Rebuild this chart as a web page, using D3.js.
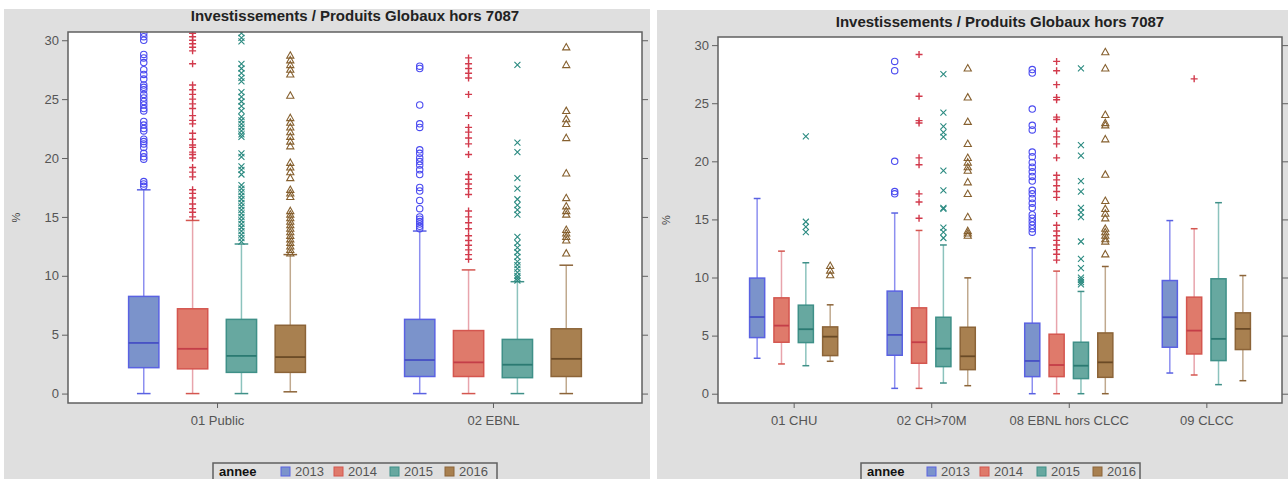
<!DOCTYPE html>
<html><head><meta charset="utf-8">
<script src="https://cdn.jsdelivr.net/npm/d3@7"></script>
<style>
body{margin:0;background:#fff;}
text{font-family:"Liberation Sans",Arial,sans-serif;}
</style>
</head><body>
<svg id="chart" width="1288" height="479"></svg>
<script>
// ---------- DATA ----------
const years = ["2013","2014","2015","2016"];
const yTicks = [0,5,10,15,20,25,30];
const titleText = "Investissements / Produits Globaux hors 7087";
const yLabel = "%";
const legendTitle = "annee";

// Left panel
const leftCategories = ["01 Public","02 EBNL"];
// [min, q1, median, q3, max] per category
const left2013 = [[0,2.2,4.3,8.25,17.3],[0,1.45,2.85,6.3,13.8]];
const left2014 = [[0,2.1,3.8,7.2,14.7],[0,1.45,2.65,5.35,10.5]];
const left2015 = [[0,1.8,3.2,6.3,12.7],[0,1.35,2.45,4.6,9.5]];
const left2016 = [[0.15,1.8,3.1,5.8,11.8],[0,1.45,2.95,5.5,10.9]];
const leftOut2013 = [
  [30.6,30.3,30.0,28.8,28.5,28.1,27.5,27.1,26.7,26.2,26.0,25.8,25.4,25.1,24.8,24.5,24.2,24.0,23.1,22.8,22.5,22.3,21.6,21.4,21.2,20.9,20.4,20.1,19.9,18.0,17.8,17.6],
  [27.8,27.6,24.5,22.9,22.6,20.7,20.4,20.0,19.7,19.4,19.0,18.6,17.5,17.2,16.4,15.7,15.0,14.8,14.6,14.4,14.2,14.0]
];
const leftOut2014 = [
  [30.6,30.3,30.0,29.7,29.4,29.1,28.0,26.2,25.8,25.4,25.0,24.6,24.2,23.6,23.2,22.9,22.1,21.6,21.1,20.9,20.5,20.3,20.0,19.2,18.8,18.4,17.3,17.0,16.6,16.1,15.7,15.4,15.0],
  [28.5,28.0,27.6,27.2,26.8,25.4,23.6,22.6,22.2,21.7,21.2,20.3,18.6,18.2,17.8,17.4,16.9,15.5,15.0,14.5,14.0,13.4,13.0,12.6,12.2,11.8,11.4]
];
const leftOut2015 = [
  [30.6,30.2,29.9,28.0,27.6,27.2,26.8,26.5,25.6,25.2,24.8,24.4,24.0,23.5,23.2,22.9,22.6,22.3,22.0,21.8,20.4,20.1,19.3,19.0,18.6,17.7,17.4,17.1,16.8,16.5,16.2,15.9,15.6,15.3,15.0,14.7,14.4,14.1,13.8,13.5,13.2,12.9],
  [27.9,21.3,20.5,18.3,17.4,16.5,16.0,15.6,15.2,13.3,12.8,12.4,12.0,11.6,11.2,10.9,10.6,10.3,10.0,9.8,9.6]
];
const leftOut2016 = [
  [28.7,28.3,27.9,27.5,27.1,25.3,23.4,23.0,22.6,22.2,21.8,21.4,21.0,19.6,19.2,18.8,18.3,17.3,17.0,16.7,15.5,15.2,14.9,14.6,14.3,14.0,13.7,13.4,13.1,12.8,12.5,12.2,11.9],
  [29.4,27.9,24.0,23.3,22.9,21.7,18.7,16.6,15.9,15.5,15.2,13.9,13.6,13.3,13.0,11.9]
];

// Right panel
const rightCategories = ["01 CHU","02 CH>70M","08 EBNL hors CLCC","09 CLCC"];
const right2013 = [[3.05,4.83,6.6,9.95,16.8],[0.46,3.31,5.06,8.83,15.55],[0,1.47,2.82,6.07,12.56],[1.78,4.0,6.58,9.74,14.9]];
const right2014 = [[2.56,4.43,5.86,8.25,12.27],[0.46,2.62,4.43,7.39,14.05],[0,1.47,2.47,5.12,10.55],[1.61,3.42,5.43,8.31,14.2]];
const right2015 = [[2.41,4.4,5.55,7.62,11.27],[0.92,2.33,3.88,6.58,12.8],[0,1.3,2.41,4.43,8.8],[0.78,2.85,4.72,9.89,16.44]];
const right2016 = [[2.79,3.28,4.91,5.75,7.65],[0.69,2.07,3.22,5.72,9.97],[0,1.41,2.7,5.23,10.95],[1.12,3.8,5.58,6.96,10.17]];
const rightOut2013 = [
  [],
  [28.6,27.8,20.0,17.4,17.2],
  [27.9,27.6,24.5,23.1,22.7,20.8,20.4,19.9,19.5,19.1,18.7,18.3,17.5,17.2,16.8,16.4,16.0,15.4,15.1,14.8,14.5,14.2,13.9],
  []
];
const rightOut2014 = [
  [],
  [29.2,25.6,23.5,23.3,20.3,19.7,17.2,16.5,15.1],
  [28.6,27.8,26.6,25.5,25.3,23.8,23.6,22.6,22.1,21.5,20.3,18.8,18.4,17.9,17.4,16.9,15.5,14.5,14.0,13.6,13.2,12.8,12.4,12.0,11.5],
  [27.1]
];
const rightOut2015 = [
  [22.15,14.8,14.35,13.9],
  [27.5,24.2,23.0,22.5,22.1,19.2,17.5,16.0,15.9,14.3,13.9,13.4],
  [28.0,21.4,20.5,18.3,17.4,16.0,15.6,15.2,13.1,11.6,10.8,10.0,9.8,9.6,9.4],
  []
];
const rightOut2016 = [
  [11.0,10.6,10.2],
  [28.0,25.5,23.4,21.5,20.3,19.9,19.5,19.2,18.2,17.2,15.2,14.0,13.8,13.6],
  [29.4,28.0,24.0,23.3,23.1,21.9,18.85,16.6,15.9,15.5,15.1,14.2,13.9,13.6,13.3,13.1,12.0],
  []
];

// ---------- STYLE ----------
const fillColors   = ["#7b93cb","#df7a6b","#67a8a0","#a88050"];
const strokeColors = ["#5a62e2","#d4564f","#3f9088","#8c6438"];
const medianColors = ["#4650c4","#c43e48","#2b7a72","#6a4a26"];
const whiskerColors= ["#8d8ff0","#e8a4ac","#8cc3bd","#c0a98e"];
const markerColors = ["#4b4bf0","#d23a4c","#2a8a80","#86602f"];
const markerPaths = [
  null, // circle
  "M-3.5,0H3.5M0,-3.5V3.5",
  "M-3,-3L3,3M-3,3L3,-3",
  "M0,-3.8L3.6,2.6L-3.6,2.6Z"
];

const svg = d3.select("#chart");
const yDomain = [-0.8, 30.7];

function drawPanel(cfg, idx) {
  const g = svg.append("g");
  // background
  g.append("rect").attr("x", cfg.bg[0]).attr("y", cfg.bg[1])
    .attr("width", cfg.bg[2]-cfg.bg[0]).attr("height", cfg.bg[3]-cfg.bg[1])
    .attr("fill", "#dfdfdf");
  const [L,T,R,B] = cfg.plot;
  g.append("rect").attr("x", L).attr("y", T).attr("width", R-L).attr("height", B-T).attr("fill", "#fff");

  const y = d3.scaleLinear().domain(yDomain).range([B, T]);
  const x = d3.scalePoint().domain(cfg.categories).range([L, R]).padding(cfg.padding);
  const step = x.step();
  const xs = d3.scaleBand().domain(years).range([-0.354*step, 0.354*step]);
  const bw = xs.bandwidth() * 0.62;
  const cw = bw * 0.45;

  const clipId = "clip" + idx;
  svg.append("clipPath").attr("id", clipId).append("rect")
    .attr("x", L).attr("y", T).attr("width", R-L).attr("height", B-T);
  const plot = g.append("g").attr("clip-path", `url(#${clipId})`);

  years.forEach((yr, s) => {
    cfg.stats[s].forEach((st, c) => {
      const cx = x(cfg.categories[c]) + xs(yr) + xs.bandwidth()/2;
      const [mn, q1, md, q3, mx] = st;
      const bg = plot.append("g");
      // whiskers
      bg.append("line").attr("x1", cx).attr("x2", cx).attr("y1", y(q3)).attr("y2", y(mx))
        .attr("stroke", whiskerColors[s]).attr("stroke-width", 1.5);
      bg.append("line").attr("x1", cx).attr("x2", cx).attr("y1", y(q1)).attr("y2", y(mn))
        .attr("stroke", whiskerColors[s]).attr("stroke-width", 1.5);
      [mn, mx].forEach(v => bg.append("line").attr("x1", cx-cw/2).attr("x2", cx+cw/2)
        .attr("y1", y(v)).attr("y2", y(v)).attr("stroke", strokeColors[s]).attr("stroke-width", 1.5));
      // box
      bg.append("rect").attr("x", cx-bw/2).attr("y", y(q3)).attr("width", bw).attr("height", y(q1)-y(q3))
        .attr("fill", fillColors[s]).attr("stroke", strokeColors[s]).attr("stroke-width", 1.5);
      bg.append("line").attr("x1", cx-bw/2).attr("x2", cx+bw/2).attr("y1", y(md)).attr("y2", y(md))
        .attr("stroke", medianColors[s]).attr("stroke-width", 1.8);
      // outliers
      cfg.outliers[s][c].forEach(v => {
        if (s === 0) {
          bg.append("circle").attr("cx", cx).attr("cy", y(v)).attr("r", 3.2)
            .attr("fill", "none").attr("stroke", markerColors[s]).attr("stroke-width", 1.1);
        } else {
          bg.append("path").attr("d", markerPaths[s]).attr("transform", `translate(${cx},${y(v)})`)
            .attr("fill", "none").attr("stroke", markerColors[s]).attr("stroke-width", s===1?1.4:1.1);
        }
      });
    });
  });

  // frame
  g.append("rect").attr("x", L).attr("y", T).attr("width", R-L).attr("height", B-T)
    .attr("fill", "none").attr("stroke", "#606060").attr("stroke-width", 1.5);

  // left axis
  const ax = g.append("g").attr("transform", `translate(${L},0)`)
    .call(d3.axisLeft(y).tickValues(yTicks).tickSize(6).tickPadding(3));
  ax.select(".domain").remove();
  ax.selectAll(".tick line").attr("stroke", "#606060");
  ax.selectAll(".tick text").attr("fill", "#555").style("font-size", "13px").style("font-family", "Liberation Sans, Arial, sans-serif");
  // right mirrored ticks
  const axr = g.append("g").attr("transform", `translate(${R},0)`)
    .call(d3.axisRight(y).tickValues(yTicks).tickSize(6).tickFormat(""));
  axr.select(".domain").remove();
  axr.selectAll(".tick line").attr("stroke", "#606060");
  // bottom axis
  const bx = g.append("g").attr("transform", `translate(0,${B})`)
    .call(d3.axisBottom(x).tickSize(5).tickPadding(8));
  bx.select(".domain").remove();
  bx.selectAll(".tick line").attr("stroke", "#606060");
  bx.selectAll(".tick text").attr("fill", "#555").style("font-size", "13px").style("font-family", "Liberation Sans, Arial, sans-serif");

  // y label
  g.append("text").attr("transform", `translate(${cfg.yLabelX},${(T+B)/2}) rotate(-90)`)
    .attr("text-anchor", "middle").attr("fill", "#444").style("font-size", "11px").text(yLabel);
  // title
  g.append("text").attr("x", (L+R)/2).attr("y", cfg.titleY).attr("text-anchor", "middle")
    .attr("fill", "#222").style("font-size", "15px").style("font-weight", "bold").text(titleText);

  // legend
  const lg = g.append("g");
  lg.append("rect").attr("x", cfg.legend.x0).attr("y", cfg.legend.y).attr("width", cfg.legend.x1-cfg.legend.x0)
    .attr("height", 30).attr("fill", "none").attr("stroke", "#606060").attr("stroke-width", 1.5);
  lg.append("text").attr("x", cfg.legend.x0+6).attr("y", cfg.legend.y+13).attr("fill", "#111")
    .style("font-size", "13px").style("font-weight", "bold").text(legendTitle);
  years.forEach((yr, s) => {
    const sx = cfg.legend.items[s];
    lg.append("rect").attr("x", sx).attr("y", cfg.legend.y+4).attr("width", 9).attr("height", 9)
      .attr("fill", fillColors[s]).attr("stroke", strokeColors[s]).attr("stroke-width", 1);
    lg.append("text").attr("x", sx+14).attr("y", cfg.legend.y+13).attr("fill", "#555")
      .style("font-size", "13px").text(yr);
  });
}

drawPanel({
  bg: [4, 9, 650, 479], plot: [68, 32, 642, 403], padding: 0.54,
  categories: leftCategories,
  stats: [left2013, left2014, left2015, left2016],
  outliers: [leftOut2013, leftOut2014, leftOut2015, leftOut2016],
  yLabelX: 20, titleY: 21,
  legend: {x0: 213, x1: 497, y: 463, items: [281, 334, 390, 445]}
}, 0);

drawPanel({
  bg: [657, 10, 1288, 479], plot: [718, 37, 1282, 403], padding: 0.55,
  categories: rightCategories,
  stats: [right2013, right2014, right2015, right2016],
  outliers: [rightOut2013, rightOut2014, rightOut2015, rightOut2016],
  yLabelX: 670, titleY: 27,
  legend: {x0: 861, x1: 1140, y: 463, items: [927, 980, 1037, 1093]}
}, 1);
</script>
</body></html>
